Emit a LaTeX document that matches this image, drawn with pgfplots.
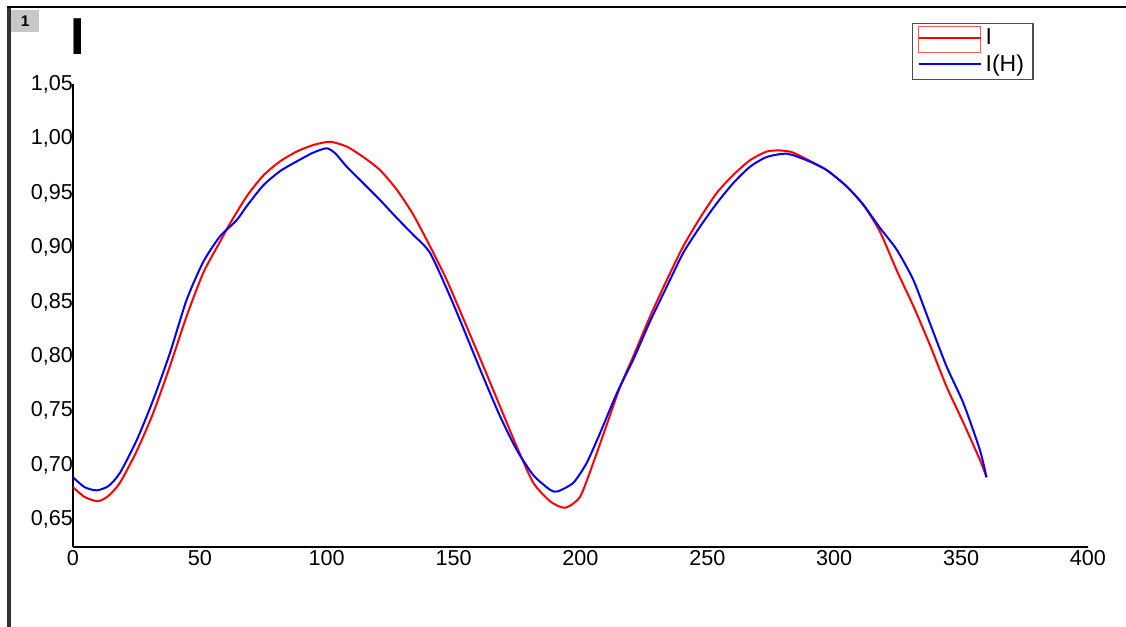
\documentclass[border=0pt]{standalone}
\usepackage{fontspec}
\setmainfont{Liberation Sans}
\usepackage{pgfplots}
\pgfplotsset{compat=1.18}
\begin{document}
\begin{tikzpicture}[x=1pt,y=1pt]
\path[use as bounding box] (0,0) rectangle (563,313.5);
\fill[white] (0,0) rectangle (563,313.5);
\draw[line width=1.6pt, black!80] (4.5,0) -- (4.5,310);
\draw[line width=1.2pt, black] (3.7,310) -- (563,310);
\fill[black!22] (5.6,297.65) rectangle (19.4,308.5);
\node[inner sep=0pt, font=\bfseries\fontsize{7.7}{9}\selectfont] at (12.6,303.1) {1};
\begin{axis}[
  at={(36.5pt,40pt)}, anchor=south west,
  scale only axis, width=507.5pt, height=231.5pt,
  xmin=0, xmax=400, ymin=0.625, ymax=1.05,
  axis lines=left,
  axis line style={-, line width=1.1pt, black},
  major tick length=0pt,
  xtick={0,50,...,400},
  ytick={0.65,0.7,0.75,0.8,0.85,0.9,0.95,1,1.05},
  /pgf/number format/assume math mode=true,
  xticklabel style={anchor=north, inner sep=0pt, yshift=-1.5pt, font=\fontsize{10.8}{12}\selectfont},
  yticklabel style={anchor=east, inner sep=0pt, xshift=0.2pt, font=\fontsize{10.8}{12}\selectfont,
    /pgf/number format/.cd, fixed, fixed zerofill, precision=2, use comma},
  legend style={at={(0.8266,1.1317)}, anchor=north west, draw=black!70, line width=0.7pt,
    inner xsep=2.5pt, inner ysep=0.5pt, font=\fontsize{11.5}{12}\selectfont,
    cells={anchor=west}, row sep=-1pt},
  legend cell align=left,
]
\addplot[red, line width=1pt, smooth, tension=0.4,
  legend image code/.code={
    \draw[red!65, line width=0.5pt] (0pt,-7pt) rectangle (31pt,5.6pt);
    \draw[red, line width=1pt] (0pt,0pt) -- (31pt,0pt);}]
coordinates {
(0,0.680) (4.5,0.671) (9.8,0.667) (14,0.672) (18.5,0.684) (25.1,0.713)
(31.6,0.748) (38.2,0.791) (44.8,0.837) (51.4,0.877) (57.9,0.905) (61.9,0.922)
(68.5,0.947) (75.0,0.966) (81.6,0.979) (88.2,0.988) (94.7,0.994) (101.3,0.997)
(107.9,0.9925) (114.4,0.983) (121.0,0.971) (127.6,0.953) (134.1,0.930) (140.7,0.901)
(147.3,0.870) (155.2,0.827) (161.7,0.791) (168.3,0.754) (174.9,0.717) (181.4,0.684)
(188.0,0.667) (193.9,0.661) (199.8,0.671) (205.0,0.702) (210.3,0.737) (215.6,0.772)
(220.8,0.800) (227.4,0.8365) (234.0,0.870) (240.5,0.901) (247.1,0.927) (253.7,0.950)
(260.2,0.9665) (266.8,0.980) (273.4,0.988) (278.6,0.989) (283.2,0.9875) (289.1,0.981)
(297.0,0.971) (304.9,0.956) (311.5,0.939) (318.0,0.9145) (324.6,0.879) (331.2,0.846)
(337.7,0.8105) (344.3,0.772) (350.9,0.739) (357.4,0.705) (360,0.689)
};
\addlegendentry{I}
\addplot[blue, line width=1pt, smooth, tension=0.4,
  legend image code/.code={
    \draw[blue, line width=1pt] (0pt,0pt) -- (31pt,0pt);}]
coordinates {
(0,0.689) (4.5,0.680) (9.3,0.677) (14,0.681) (18.5,0.693) (25.1,0.723)
(31.6,0.760) (38.2,0.803) (44.8,0.852) (51.4,0.887) (57.9,0.910) (64.5,0.925)
(68.5,0.938) (75.0,0.957) (81.6,0.970) (88.2,0.979) (94.7,0.987) (100.0,0.991)
(103.5,0.986) (107.9,0.974) (114.4,0.959) (121.0,0.9435) (127.6,0.927) (134.1,0.9115)
(140.7,0.895) (148.6,0.855) (155.2,0.818) (161.7,0.781) (168.3,0.745) (174.9,0.714)
(181.4,0.691) (188.0,0.6775) (191.0,0.676) (197.2,0.684) (202.4,0.702) (207.7,0.7295)
(214.3,0.766) (220.8,0.797) (227.4,0.832) (234.0,0.864) (240.5,0.895) (247.1,0.919)
(253.7,0.9405) (260.2,0.959) (266.8,0.974) (273.4,0.983) (281.3,0.986) (289.1,0.980)
(297.0,0.971) (304.9,0.956) (311.5,0.939) (318.0,0.918) (324.6,0.898) (331.2,0.870)
(337.7,0.8305) (344.3,0.7905) (350.9,0.757) (357.4,0.714) (360,0.689)
};
\addlegendentry{I(H)}
\end{axis}
\node[anchor=base west, inner sep=0pt, font=\bfseries\fontsize{26}{30}\selectfont] at (35,286) {I};
\end{tikzpicture}
\end{document}
